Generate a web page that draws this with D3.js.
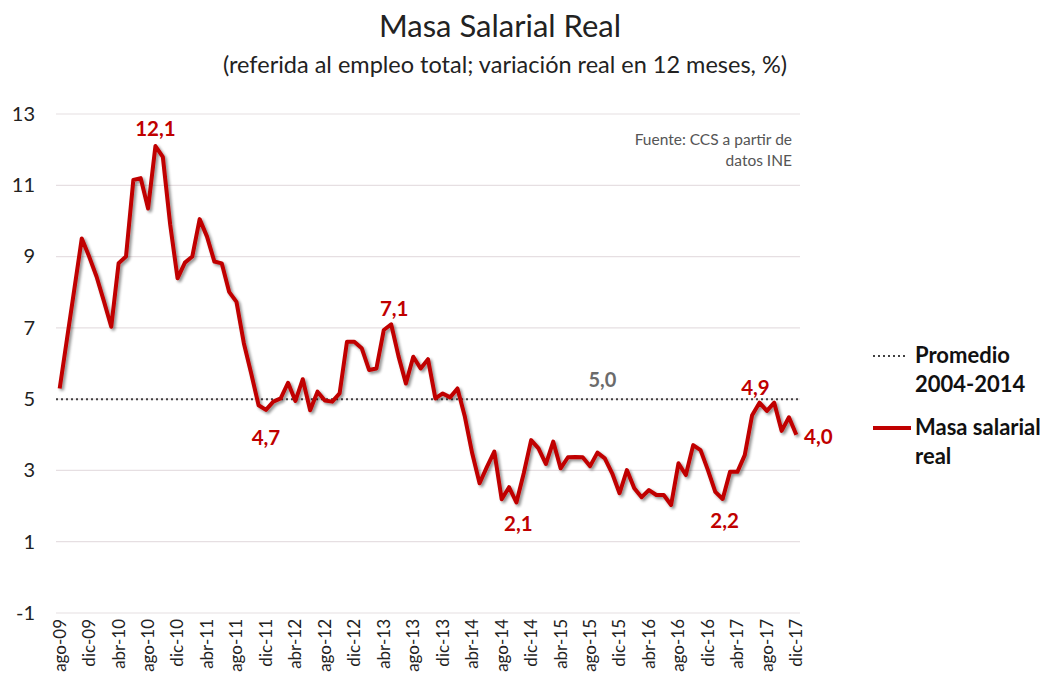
<!DOCTYPE html>
<html>
<head>
<meta charset="utf-8">
<script src="https://cdn.jsdelivr.net/npm/d3@7"></script>
<style>
  body { margin: 0; background: #fff; }
  svg { font-family: Lato, "Open Sans", sans-serif; }
</style>
</head>
<body>
<svg id="chart" width="1047" height="682"></svg>
<script>
// months ago-09 .. dic-17
const monthNames = ["ene", "feb", "mar", "abr", "may", "jun", "jul", "ago", "sep", "oct", "nov", "dic"];
const months = [];
for (let y = 2009, m = 7; y < 2018; ) {
  months.push(monthNames[m] + "-" + String(y).slice(2));
  m++;
  if (m === 12) { m = 0; y++; }
}

const masaSalarial = [
  5.30, 6.70, 8.10, 9.51, 9.00, 8.44, 7.75, 7.03, 8.81, 9.00,
  11.15, 11.20, 10.35, 12.10, 11.80, 9.90, 8.39, 8.83, 9.00, 10.05,
  9.56, 8.86, 8.81, 8.01, 7.73, 6.57, 5.72, 4.83, 4.70, 4.93,
  5.02, 5.46, 4.95, 5.56, 4.69, 5.21, 4.96, 4.93, 5.16, 6.61,
  6.61, 6.43, 5.82, 5.86, 6.94, 7.10, 6.20, 5.44, 6.19, 5.86,
  6.12, 5.02, 5.16, 5.05, 5.30, 4.51, 3.48, 2.64, 3.10, 3.53,
  2.19, 2.53, 2.10, 2.92, 3.85, 3.62, 3.18, 3.81, 3.06, 3.37,
  3.38, 3.37, 3.12, 3.50, 3.34, 2.92, 2.36, 3.01, 2.50, 2.25,
  2.45, 2.31, 2.31, 2.03, 3.20, 2.87, 3.71, 3.57, 3.01, 2.40,
  2.20, 2.96, 2.96, 3.43, 4.55, 4.90, 4.67, 4.90, 4.11, 4.49,
  4.00
];
const promedio = 5.0;

const yTicks = [-1, 1, 3, 5, 7, 9, 11, 13];

// labelled points: month, value text, offset
const callouts = [
  { month: "sep-10", text: "12,1", dx: 0, dy: -10 },
  { month: "dic-11", text: "4,7", dx: 0, dy: 35 },
  { month: "may-13", text: "7,1", dx: 3, dy: -8 },
  { month: "oct-14", text: "2,1", dx: 2, dy: 28 },
  { month: "feb-17", text: "2,2", dx: 2, dy: 29 },
  { month: "jul-17", text: "4,9", dx: -4, dy: -8 },
  { month: "dic-17", text: "4,0", dx: 22, dy: 9 }
];

const svg = d3.select("#chart");
const margins = { top: 114, right: 247, bottom: 69, left: 56 };
const dimensions = {
  width: svg.attr("width") - margins.left - margins.right,
  height: svg.attr("height") - margins.top - margins.bottom
};

const x = d3.scalePoint()
  .domain(months)
  .range([0, dimensions.width])
  .padding(0.5);

const y = d3.scaleLinear()
  .domain([-1, 13])
  .range([dimensions.height, 0]);

const defs = svg.append("defs");
const shadow = defs.append("filter").attr("id", "shadow")
  .attr("x", "-5%").attr("y", "-5%").attr("width", "110%").attr("height", "120%");
shadow.append("feGaussianBlur").attr("in", "SourceAlpha").attr("stdDeviation", 1.5).attr("result", "b");
shadow.append("feOffset").attr("in", "b").attr("dx", 2).attr("dy", 2).attr("result", "o");
shadow.append("feComponentTransfer").attr("in", "o").attr("result", "s")
  .append("feFuncA").attr("type", "linear").attr("slope", 0.45);
const merge = shadow.append("feMerge");
merge.append("feMergeNode").attr("in", "s");
merge.append("feMergeNode").attr("in", "SourceGraphic");

// Titles
svg.append("text")
  .attr("x", 500).attr("y", 37)
  .attr("text-anchor", "middle")
  .attr("font-size", 31)
  .attr("fill", "#222")
  .text("Masa Salarial Real");

svg.append("text")
  .attr("x", 505).attr("y", 73)
  .attr("text-anchor", "middle")
  .attr("font-size", 23.5)
  .attr("fill", "#222")
  .text("(referida al empleo total; variación real en 12 meses, %)");

const g = svg.append("g")
  .attr("transform", `translate(${margins.left}, ${margins.top})`);

// Grid
g.append("g")
  .attr("class", "grid")
  .selectAll("line")
  .data(yTicks)
  .enter()
  .append("line")
  .attr("x1", 0)
  .attr("x2", dimensions.width)
  .attr("y1", d => y(d))
  .attr("y2", d => y(d))
  .attr("stroke", "#e6dfe2")
  .attr("stroke-width", 1.2);

// Y axis
const yAxis = g.append("g")
  .call(d3.axisLeft(y).tickValues(yTicks).tickFormat(d => String(d)).tickSize(0).tickPadding(21));
yAxis.select(".domain").remove();
yAxis.selectAll("text")
  .attr("font-size", 20)
  .attr("fill", "#222")
  .attr("font-family", "Lato, sans-serif");

// X axis
const xAxis = g.append("g")
  .attr("transform", `translate(0, ${dimensions.height})`)
  .call(d3.axisBottom(x).tickValues(months.filter((d, i) => i % 4 === 0)).tickSize(0));
xAxis.select(".domain").remove();
xAxis.selectAll("text")
  .attr("font-size", 17)
  .attr("fill", "#222")
  .attr("font-family", "Lato, sans-serif")
  .attr("text-anchor", "end")
  .attr("transform", "rotate(-90)")
  .attr("dx", "-6")
  .attr("dy", "0.32em")
  .attr("y", 0)
  .attr("x", 0);

// Promedio line
g.append("line")
  .attr("x1", 0)
  .attr("x2", dimensions.width)
  .attr("y1", y(promedio))
  .attr("y2", y(promedio))
  .attr("stroke", "#404040")
  .attr("stroke-width", 2)
  .attr("stroke-dasharray", "2,3");

g.append("text")
  .attr("x", x("sep-15") + 5)
  .attr("y", y(promedio) - 12)
  .attr("text-anchor", "middle")
  .attr("font-size", 20)
  .attr("font-weight", "bold")
  .attr("fill", "#6b6b6b")
  .text("5,0");

// Main line
const line = d3.line()
  .x((d, i) => x(months[i]))
  .y(d => y(d));

g.append("path")
  .datum(masaSalarial)
  .attr("d", line)
  .attr("fill", "none")
  .attr("stroke", "#c00000")
  .attr("stroke-width", 4)
  .attr("stroke-linejoin", "round")
  .attr("filter", "url(#shadow)");

// Callouts
g.selectAll(".callout")
  .data(callouts)
  .enter()
  .append("text")
  .attr("class", "callout")
  .attr("x", d => x(d.month) + d.dx)
  .attr("y", d => y(masaSalarial[months.indexOf(d.month)]) + d.dy)
  .attr("text-anchor", "middle")
  .attr("font-size", 20.5)
  .attr("font-weight", "bold")
  .attr("fill", "#c00000")
  .text(d => d.text);

// Source
const src = g.append("text")
  .attr("text-anchor", "end")
  .attr("font-size", 15.5)
  .attr("fill", "#555");
src.append("tspan").attr("x", 736).attr("y", 31).text("Fuente: CCS a partir de");
src.append("tspan").attr("x", 736).attr("y", 52).text("datos INE");

// Legend
const legend = svg.append("g").attr("transform", "translate(873, 0)");
legend.append("line")
  .attr("x1", 0).attr("x2", 34).attr("y1", 356).attr("y2", 356)
  .attr("stroke", "#404040").attr("stroke-width", 2).attr("stroke-dasharray", "2,3");
legend.append("text")
  .attr("x", 42).attr("y", 363)
  .attr("font-size", 22).attr("font-weight", "bold").attr("fill", "#111")
  .selectAll("tspan")
  .data(["Promedio", "2004-2014"])
  .enter()
  .append("tspan")
  .attr("x", 42)
  .attr("dy", (d, i) => i === 0 ? 0 : 29)
  .text(d => d);

legend.append("line")
  .attr("x1", 0).attr("x2", 38).attr("y1", 428).attr("y2", 428)
  .attr("stroke", "#c00000").attr("stroke-width", 4);
legend.append("text")
  .attr("x", 42).attr("y", 435)
  .attr("font-size", 22).attr("font-weight", "bold").attr("fill", "#111")
  .selectAll("tspan")
  .data(["Masa salarial", "real"])
  .enter()
  .append("tspan")
  .attr("x", 42)
  .attr("dy", (d, i) => i === 0 ? 0 : 29)
  .text(d => d);
</script>
</body>
</html>
